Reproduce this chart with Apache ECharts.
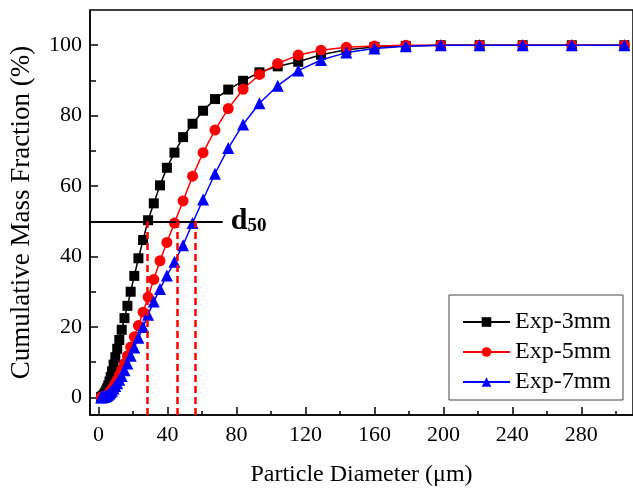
<!DOCTYPE html>
<html>
<head>
<meta charset="utf-8">
<script src="https://cdn.jsdelivr.net/npm/echarts@6/dist/echarts.min.js"></script>
<style>
html,body{margin:0;padding:0;background:#fff;}
#chart{width:633px;height:492px;}
</style>
</head>
<body>
<div id="chart"></div>
<script>
// Particle diameter bins (µm)
const xBins = [1.5, 1.7, 1.9, 2.1, 2.3, 2.6, 2.9, 3.2, 3.6, 4.0, 4.5, 5.0, 5.6, 6.3, 7.0, 7.8, 8.7, 9.7, 10.8, 12.0, 13.4, 15.0, 16.7, 18.6, 20.7, 23.1, 25.8, 28.7, 32.0, 35.6, 39.6, 44.0, 49.0, 54.5, 60.6, 67.5, 75.2, 83.8, 93.3, 103.9, 115.8, 129.0, 143.7, 160.0, 178.2, 198.5, 221.0, 246.0, 274.5, 305.0];
// Cumulative mass fraction (%)
const exp3mm = [0.05, 0.1, 0.15, 0.2, 0.3, 0.4, 0.6, 0.8, 1.1, 1.5, 2.0, 2.6, 3.4, 4.5, 5.8, 7.4, 9.3, 11.4, 13.8, 16.3, 19.2, 22.5, 26.0, 30.0, 34.5, 39.5, 44.7, 50.3, 55.1, 60.2, 65.2, 69.5, 73.9, 77.7, 81.4, 84.7, 87.4, 89.9, 92.3, 94.0, 95.3, 97.3, 98.7, 99.5, 99.8, 100, 100, 100, 100, 100];
const exp5mm = [0.02, 0.04, 0.06, 0.08, 0.1, 0.13, 0.17, 0.22, 0.3, 0.4, 0.55, 0.75, 1.0, 1.35, 1.8, 2.4, 3.1, 4.0, 5.0, 6.3, 7.8, 9.6, 11.8, 14.3, 17.2, 20.4, 24.2, 28.5, 33.5, 38.8, 44.0, 49.5, 55.8, 62.8, 69.5, 75.9, 82.0, 87.5, 91.7, 94.8, 97.2, 98.6, 99.4, 99.8, 100, 100, 100, 100, 100, 100];
const exp7mm = [0.02, 0.03, 0.05, 0.07, 0.09, 0.12, 0.15, 0.2, 0.27, 0.35, 0.47, 0.62, 0.82, 1.1, 1.45, 1.9, 2.5, 3.2, 4.0, 5.0, 6.1, 7.7, 9.6, 11.8, 14.2, 16.9, 20.0, 23.5, 27.2, 30.8, 34.6, 38.5, 43.2, 49.5, 56.2, 63.5, 70.8, 77.5, 83.5, 88.5, 92.8, 95.8, 97.9, 99.1, 99.7, 100, 100, 100, 100, 100];
const seriesNames = ['Exp-3mm', 'Exp-5mm', 'Exp-7mm'];
const d50Values = [28.2, 45.4, 56.3];
const d50Level = 50;
const d50LineEnd = 72;
const xLabelValues = [0, 40, 80, 120, 160, 200, 240, 280];
const xMinorTicks = [20, 60, 100, 140, 180, 220, 260, 300];
const yLabelValues = [0, 20, 40, 60, 80, 100];
const yMinorTicks = [10, 30, 50, 70, 90];

const X_MIN = -5, X_MAX = 310, Y_MIN = -5, Y_MAX = 110;
const FONT = 'Liberation Serif';

function pairs(ys) { return xBins.map((x, i) => [x, ys[i]]); }

const chart = echarts.init(document.getElementById('chart'), null, {renderer: 'canvas'});

const axisCommon = {
  type: 'value',
  splitLine: {show: false},
};

const option = {
  animation: false,
  backgroundColor: '#fff',
  grid: {
    left: 89, top: 10, width: 550, height: 406,
    show: true, borderColor: '#000', borderWidth: 1.5, backgroundColor: 'transparent'
  },
  legend: {
    data: seriesNames,
    orient: 'vertical',
    left: 449, top: 295,
    padding: [15, 12, 6, 13],
    itemWidth: 47, itemHeight: 12, itemGap: 6,
    borderColor: '#444', borderWidth: 1,
    textStyle: {fontFamily: FONT, fontSize: 24, color: '#000'}
  },
  xAxis: [
    Object.assign({}, axisCommon, {
      min: X_MIN, max: X_MAX, position: 'bottom',
      name: 'Particle Diameter (\u03bcm)', nameLocation: 'middle', nameGap: 48,
      nameTextStyle: {fontFamily: FONT, fontSize: 24, color: '#000'},
      axisLine: {show: true, onZero: false, lineStyle: {color: '#000', width: 1.5}},
      axisTick: {show: true, inside: true, length: 8, customValues: xLabelValues, lineStyle: {color: '#000', width: 1.5}},
      axisLabel: {customValues: xLabelValues, margin: 9, fontFamily: FONT, fontSize: 22, color: '#000'}
    }),
    Object.assign({}, axisCommon, {
      min: X_MIN, max: X_MAX, position: 'bottom', gridIndex: 0,
      axisLine: {show: false, onZero: false},
      axisTick: {show: true, inside: true, length: 4, customValues: xMinorTicks, lineStyle: {color: '#000', width: 1.5}},
      axisLabel: {show: false}
    })
  ],
  yAxis: [
    Object.assign({}, axisCommon, {
      min: Y_MIN, max: Y_MAX, position: 'left',
      name: 'Cumulative Mass Fraction (%)', nameLocation: 'middle', nameGap: 55,
      nameTextStyle: {fontFamily: FONT, fontSize: 27, color: '#000'},
      axisLine: {show: true, onZero: false, lineStyle: {color: '#000', width: 1.5}},
      axisTick: {show: true, inside: true, length: 8, customValues: yLabelValues, lineStyle: {color: '#000', width: 1.5}},
      axisLabel: {customValues: yLabelValues, margin: 8, fontFamily: FONT, fontSize: 22, color: '#000'}
    }),
    Object.assign({}, axisCommon, {
      min: Y_MIN, max: Y_MAX, position: 'left', gridIndex: 0,
      axisLine: {show: false, onZero: false},
      axisTick: {show: true, inside: true, length: 6, customValues: yMinorTicks, lineStyle: {color: '#000', width: 1.5}},
      axisLabel: {show: false}
    })
  ],
  series: [
    {
      name: seriesNames[0], type: 'line', data: pairs(exp3mm),
      symbol: 'rect', symbolSize: 10,
      itemStyle: {color: '#000'}, lineStyle: {color: '#000', width: 1.5},
      z: 2,
      markLine: {
        silent: true, symbol: 'none', animation: false,
        lineStyle: {color: '#000', width: 2, type: 'solid'},
        label: {
          show: true, position: 'end', distance: 8,
          formatter: '{d|d}{s|50}',
          rich: {
            d: {fontFamily: FONT, fontSize: 30, fontWeight: 'bold', color: '#000'},
            s: {fontFamily: FONT, fontSize: 19, fontWeight: 'bold', color: '#000', padding: [10, 0, 0, 0]}
          }
        },
        data: [[{coord: [X_MIN, d50Level]}, {coord: [d50LineEnd, d50Level]}]]
      }
    },
    {
      name: seriesNames[1], type: 'line', data: pairs(exp5mm),
      symbol: 'circle', symbolSize: 11,
      itemStyle: {color: '#ff0000'}, lineStyle: {color: '#ff0000', width: 1.5},
      z: 3,
      markLine: {
        silent: true, symbol: 'none', animation: false,
        lineStyle: {color: '#ff0000', width: 2.5, type: [7, 4]},
        label: {show: false},
        data: d50Values.map(v => [{coord: [v, Y_MIN]}, {coord: [v, d50Level]}])
      }
    },
    {
      name: seriesNames[2], type: 'line', data: pairs(exp7mm),
      symbol: 'triangle', symbolSize: 12,
      itemStyle: {color: '#0000ff'}, lineStyle: {color: '#0000ff', width: 1.5},
      z: 4
    }
  ]
};
chart.setOption(option);
</script>
</body>
</html>
